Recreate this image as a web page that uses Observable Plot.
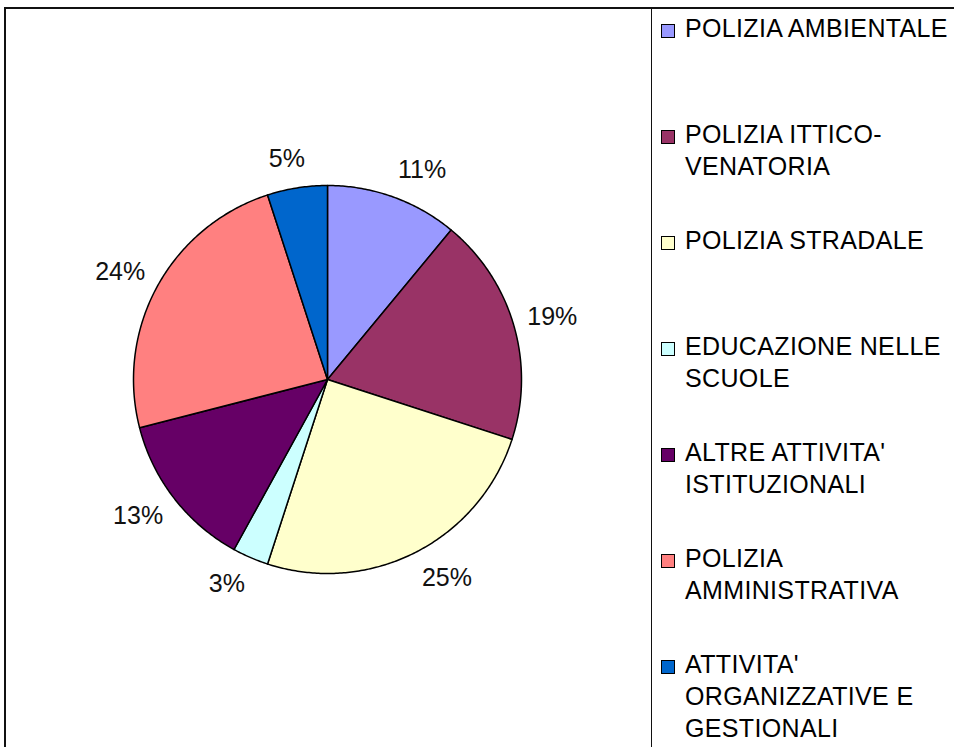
<!DOCTYPE html>
<html>
<head>
<meta charset="utf-8">
<script src="https://cdn.jsdelivr.net/npm/d3@7"></script>
<script src="https://cdn.jsdelivr.net/npm/@observablehq/plot@0.6"></script>
<style>
  html, body { margin: 0; padding: 0; background: #fff; }
  #wrap { position: relative; width: 954px; height: 747px; overflow: hidden; font-family: "Liberation Sans", Arial, sans-serif; }
  #frame { position: absolute; left: 4px; top: 7px; width: 1200px; height: 1200px; border-left: 2px solid #111; border-top: 2px solid #111; }
  #legendbox { position: absolute; left: 651px; top: 7px; width: 600px; height: 1200px; border-left: 1.5px solid #111; }
  #chart { position: absolute; left: 0; top: 0; }
  .item { position: absolute; left: 685px; font-size: 25px; line-height: 32px; letter-spacing: 0.35px; color: #000; white-space: nowrap; }
  .sw { position: absolute; left: -24px; top: 12px; width: 12px; height: 12px; border: 1.5px solid #000; box-sizing: content-box; }
</style>
</head>
<body>
<div id="wrap">
  <div id="frame"></div>
  <div id="legendbox"></div>
  <div id="chart"></div>
  <div id="legend"></div>
</div>
<script>
const categories = [
  "POLIZIA AMBIENTALE",
  "POLIZIA ITTICO-VENATORIA",
  "POLIZIA STRADALE",
  "EDUCAZIONE NELLE SCUOLE",
  "ALTRE ATTIVITA' ISTITUZIONALI",
  "POLIZIA AMMINISTRATIVA",
  "ATTIVITA' ORGANIZZATIVE E GESTIONALI"
];
const legendLines = [
  ["POLIZIA AMBIENTALE"],
  ["POLIZIA ITTICO-", "VENATORIA"],
  ["POLIZIA STRADALE"],
  ["EDUCAZIONE NELLE", "SCUOLE"],
  ["ALTRE ATTIVITA'", "ISTITUZIONALI"],
  ["POLIZIA", "AMMINISTRATIVA"],
  ["ATTIVITA'", "ORGANIZZATIVE E", "GESTIONALI"]
];
const values = [11, 19, 25, 3, 13, 24, 5];
const colors = ["#9999FF", "#993366", "#FFFFCC", "#CCFFFF", "#660066", "#FF8080", "#0066CC"];

const cx = 327, cy = 379, R = 194;
const fontSize = 25;
const labelRx = 208 / R, labelRy = 223 / R;

const arcs = d3.pie().sort(null).value(d => d)(values);
const total = d3.sum(values);

const marks = [];
arcs.forEach((a, i) => {
  const pts = [{x: 0, y: 0}];
  const n = Math.max(4, Math.ceil((a.endAngle - a.startAngle) / 0.01));
  for (let k = 0; k <= n; k++) {
    const t = a.startAngle + (a.endAngle - a.startAngle) * k / n;
    pts.push({x: Math.sin(t), y: Math.cos(t)});
  }
  pts.push({x: 0, y: 0});
  marks.push(Plot.line(pts, {x: "x", y: "y", fill: colors[i], stroke: "#000", strokeWidth: 1.5, strokeLinejoin: "round", curve: "linear"}));
});

const labels = arcs.map((a, i) => {
  const m = (a.startAngle + a.endAngle) / 2;
  const text = Math.round(values[i] / total * 100) + "%";
  const w = ((text.length - 1) * 0.556 + 0.889) * fontSize; // approx text width
  const s = Math.sin(m), c = Math.cos(m);
  const shift = (w / 2) * Math.max(-1, Math.min(1, s / 0.35)) / R;
  return {x: labelRx * s + shift, y: labelRy * c, text};
});
marks.push(Plot.text(labels, {x: "x", y: "y", text: "text", fontSize, fill: "#111", fontFamily: "Liberation Sans, Arial, sans-serif"}));

const chart = Plot.plot({
  width: 650,
  height: 747,
  margin: 0,
  x: {type: "linear", domain: [-1, 1], range: [cx - R, cx + R], axis: null},
  y: {type: "linear", domain: [-1, 1], range: [cy + R, cy - R], axis: null},
  style: {background: "transparent", overflow: "visible"},
  marks
});
document.getElementById("chart").appendChild(chart);

const leg = document.getElementById("legend");
legendLines.forEach((lines, i) => {
  const div = document.createElement("div");
  div.className = "item";
  div.style.top = (28 + i * 106 - 16) + "px";
  const sw = document.createElement("div");
  sw.className = "sw";
  sw.style.background = colors[i];
  div.appendChild(sw);
  lines.forEach((l, j) => {
    if (j) div.appendChild(document.createElement("br"));
    div.appendChild(document.createTextNode(l));
  });
  leg.appendChild(div);
});
</script>
</body>
</html>
